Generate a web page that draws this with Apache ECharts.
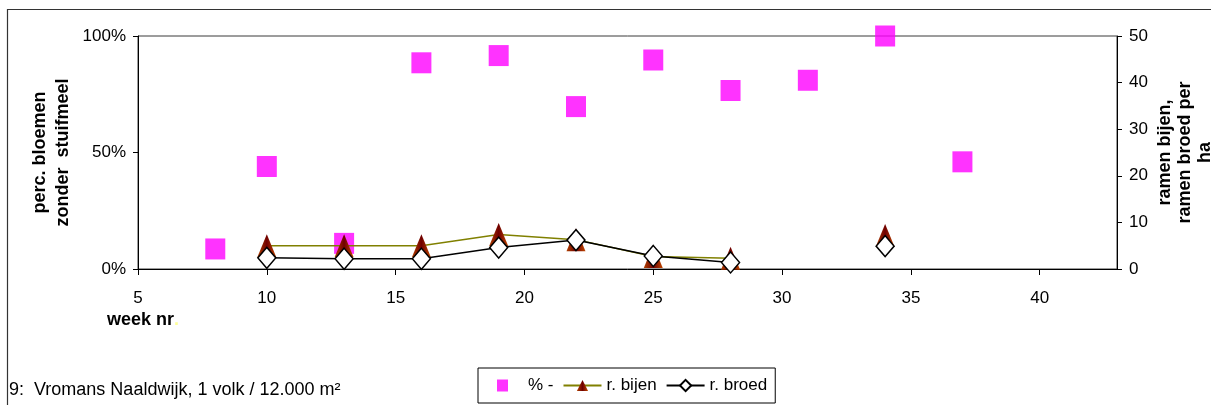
<!DOCTYPE html>
<html>
<head>
<meta charset="utf-8">
<title>Vromans Naaldwijk</title>
<script src="https://cdn.jsdelivr.net/npm/echarts@6/dist/echarts.min.js"></script>
<style>
  html, body { margin: 0; padding: 0; background: #fff; }
  #chart { width: 1211px; height: 405px; }
</style>
</head>
<body>
<div id="chart"></div>
<script>
// week numbers of the observations
const weeks = [8, 10, 13, 16, 19, 22, 25, 28, 31, 34, 37];
// share of flowers without pollen (fraction, left axis)
const pctNoPollen = [0.086, 0.44, 0.11, 0.885, 0.916, 0.697, 0.897, 0.766, 0.81, 1.0, 0.46];
// frames of bees / brood per ha (right axis); null = not counted
const bijenWeeks = [10, 13, 16, 19, 22, 25, 28, 31, 34];
const framesBees = [5, 5, 5, 7.4, 6.3, 2.7, 2.3, null, 7.2];
const framesBrood = [2.4, 2.2, 2.2, 4.6, 6.2, 2.8, 1.4, null, 4.9];
// x axis tick labels
const xTicks = [5, 10, 15, 20, 25, 30, 35, 40];

const FONT = '"Liberation Sans", Arial, sans-serif';

const pctData = weeks.map((w, i) => [w, pctNoPollen[i]]);
const beesData = bijenWeeks.map((w, i) => [w, framesBees[i] === null ? '-' : framesBees[i]]);
const broodData = bijenWeeks.map((w, i) => [w, framesBrood[i] === null ? '-' : framesBrood[i]]);

const coneFill = new echarts.graphic.LinearGradient(0, 0, 1, 0, [
  { offset: 0, color: '#B04000' },
  { offset: 0.5, color: '#700000' },
  { offset: 1, color: '#C04800' }
]);

// legend swatch: small square inside a 38x14 box (move-to corners keep the box size)
const squareIcon = 'path://M0,0M38,14M12,1H23V13H12Z';

const chart = echarts.init(document.getElementById('chart'), null, { renderer: 'canvas' });

chart.setOption({
  animation: false,
  backgroundColor: '#fff',
  textStyle: { fontFamily: FONT },
  title: {
    text: '9:  Vromans Naaldwijk, 1 volk / 12.000 m²',
    left: 9,
    top: 381,
    padding: 0,
    textStyle: { fontFamily: FONT, fontSize: 18, fontWeight: 'normal', color: '#000' }
  },
  legend: {
    left: 478,
    top: 368,
    padding: [9, 8, 9, 7],
    itemWidth: 38,
    itemHeight: 14,
    itemGap: 9,
    borderColor: '#000',
    borderWidth: 1,
    borderRadius: 0,
    textStyle: { fontFamily: FONT, fontSize: 17, color: '#000' },
    data: [
      { name: '% -', icon: squareIcon },
      'r. bijen',
      'r. broed'
    ]
  },
  grid: {
    left: 138,
    right: 94,
    top: 36,
    bottom: 136,
    outerBoundsMode: 'none',
    containLabel: false,
    show: true,
    borderColor: '#3a3a3a',
    borderWidth: 1,
    backgroundColor: 'transparent'
  },
  xAxis: {
    type: 'value',
    min: 5,
    max: 43,
    interval: 5,
    splitLine: { show: false },
    axisLine: { show: true, onZero: false, lineStyle: { color: '#000', width: 1 } },
    axisTick: { show: true, length: 6, lineStyle: { color: '#000' }, customValues: xTicks },
    axisLabel: {
      customValues: xTicks,
      margin: 21,
      fontFamily: FONT,
      fontSize: 17,
      color: '#000'
    }
  },
  yAxis: [
    {
      type: 'value',
      position: 'left',
      min: 0,
      max: 1,
      interval: 0.5,
      splitLine: { show: false },
      axisLine: { show: true, lineStyle: { color: '#000', width: 1 } },
      axisTick: { show: true, length: 5, lineStyle: { color: '#000' } },
      axisLabel: {
        margin: 12,
        fontFamily: FONT,
        fontSize: 17,
        color: '#000',
        formatter: v => Math.round(v * 100) + '%'
      },
      name: 'perc. bloemen\nzonder  stuifmeel',
      nameLocation: 'middle',
      nameMoveOverlap: false,
      nameGap: 63,
      nameTextStyle: { fontFamily: FONT, fontSize: 18, fontWeight: 'bold', color: '#000', lineHeight: 23 }
    },
    {
      type: 'value',
      position: 'right',
      min: 0,
      max: 50,
      interval: 10,
      splitLine: { show: false },
      axisLine: { show: true, lineStyle: { color: '#000', width: 1 } },
      axisTick: { show: true, length: 5, lineStyle: { color: '#000' } },
      axisLabel: { margin: 12, fontFamily: FONT, fontSize: 17, color: '#000' },
      name: 'ramen bijen,\nramen broed per\nha',
      nameLocation: 'middle',
      nameMoveOverlap: false,
      nameGap: 38,
      nameTextStyle: { fontFamily: FONT, fontSize: 18, fontWeight: 'bold', color: '#000', lineHeight: 20 }
    }
  ],
  graphic: [
    {
      type: 'polyline',
      silent: true,
      shape: { points: [[7.5, 405], [7.5, 9.5], [1211, 9.5]] },
      style: { stroke: '#333', lineWidth: 1.2, fill: null }
    },
    {
      type: 'text',
      left: 107,
      top: 311,
      style: {
        text: 'week nr{dot|.}',
        font: 'bold 18px ' + FONT,
        fill: '#000',
        rich: { dot: { fill: '#FFFF99', font: 'bold 18px ' + FONT } }
      }
    }
  ],
  series: [
    {
      name: '% -',
      type: 'scatter',
      yAxisIndex: 0,
      symbol: 'rect',
      symbolSize: [20, 21],
      itemStyle: { color: '#FF00FF' },
      data: pctData,
      z: 2
    },
    {
      name: 'r. bijen',
      type: 'line',
      yAxisIndex: 1,
      symbol: 'triangle',
      symbolSize: [19, 23],
      showAllSymbol: true,
      connectNulls: false,
      lineStyle: { color: '#808000', width: 1.5 },
      itemStyle: { color: coneFill, borderWidth: 0 },
      data: beesData,
      z: 3
    },
    {
      name: 'r. broed',
      type: 'line',
      yAxisIndex: 1,
      symbol: 'diamond',
      symbolSize: [18, 21],
      showAllSymbol: true,
      connectNulls: false,
      lineStyle: { color: '#000', width: 1.5 },
      itemStyle: { color: '#fff', borderColor: '#000', borderWidth: 1.5 },
      data: broodData,
      z: 4
    }
  ]
});
</script>
</body>
</html>
